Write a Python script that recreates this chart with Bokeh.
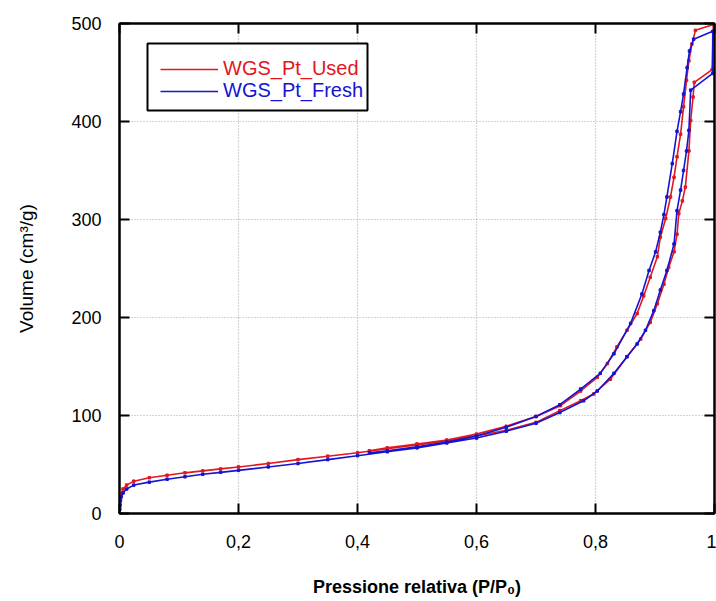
from bokeh.plotting import figure
from bokeh.models import (LinearAxis, Legend, LegendItem, BoxAnnotation, FixedTicker, Range1d)
from bokeh.embed import file_html
from bokeh.resources import INLINE

# ---------------- data ----------------
used_ads_p = [0.0003, 0.0008, 0.0015, 0.003, 0.006, 0.012, 0.024, 0.05, 0.08, 0.11, 0.14, 0.17,
              0.20, 0.25, 0.30, 0.35, 0.40, 0.45, 0.50, 0.55, 0.60, 0.65, 0.70, 0.74, 0.775, 0.797,
              0.825, 0.853, 0.876, 0.892, 0.904, 0.915, 0.923, 0.932, 0.937, 0.940, 0.946, 0.951,
              0.957, 0.960, 0.964, 0.966, 0.996]
used_ads_v = [5, 10, 15, 20, 25, 29, 33, 36.5, 39, 41.5, 43.5, 45.5,
              47.5, 51, 55, 58.5, 62, 66, 70, 74, 79, 85, 93, 105, 115, 122,
              137, 160, 178, 195, 214, 234, 251, 267, 285, 306, 319, 333,
              370, 401, 425, 440, 453]
used_des_p = [0.998, 0.968, 0.962, 0.957, 0.953, 0.948, 0.943, 0.937, 0.932, 0.926, 0.918, 0.909,
              0.904, 0.892, 0.881, 0.870, 0.853, 0.836, 0.820, 0.803, 0.775, 0.741, 0.70, 0.65,
              0.60, 0.55, 0.50, 0.45, 0.42]
used_des_v = [499, 493, 479, 462, 442, 415, 387, 364, 343, 323, 301, 282,
              262, 241, 222, 204, 187, 170, 153, 139, 125, 110, 99, 89,
              81, 75, 71, 67, 64]

fresh_ads_p = [0.0003, 0.0008, 0.0015, 0.003, 0.006, 0.012, 0.024, 0.05, 0.08, 0.11, 0.14, 0.17,
               0.20, 0.25, 0.30, 0.35, 0.40, 0.45, 0.50, 0.55, 0.60, 0.65, 0.70, 0.74, 0.78, 0.803,
               0.831, 0.853, 0.870, 0.884, 0.898, 0.909, 0.920, 0.932, 0.937, 0.943, 0.948, 0.953,
               0.957, 0.960, 0.997]
fresh_ads_v = [4, 8, 13, 17, 21, 25, 29, 32, 35, 37.5, 40, 42,
               44, 47.5, 51, 55, 59, 63, 67, 72, 77, 84, 92, 103, 115, 125,
               143, 160, 173, 187, 207, 228, 248, 275, 309, 330, 350, 370,
               391, 432, 449]
fresh_des_p = [0.997, 0.965, 0.958, 0.954, 0.948, 0.943, 0.937, 0.929, 0.920, 0.915, 0.909, 0.901,
               0.890, 0.878, 0.859, 0.831, 0.808, 0.775, 0.740, 0.70, 0.65, 0.60, 0.55, 0.50,
               0.45, 0.42]
fresh_des_v = [492, 484, 472, 455, 428, 410, 390, 357, 323, 305, 287, 267,
               248, 224, 194, 163, 143, 127, 111, 99, 88, 79, 73, 68,
               64, 62]

series_names = ["WGS_Pt_Used", "WGS_Pt_Fresh"]
x_ticks = [0, 0.2, 0.4, 0.6, 0.8, 1]
x_tick_labels = ["0", "0,2", "0,4", "0,6", "0,8", "1"]
y_ticks = [0, 100, 200, 300, 400, 500]

RED = "#e3161e"
BLUE = "#1414d2"
FONT = "Liberation Sans"

p = figure(width=716, height=600, output_backend="svg", toolbar_location=None,
           x_range=Range1d(0, 1), y_range=Range1d(0, 500),
           min_border_left=119, min_border_right=2, min_border_top=23, min_border_bottom=87)
p.background_fill_color = "white"
p.border_fill_color = "white"
p.outline_line_color = "black"
p.outline_line_width = 2

# curves
up = used_ads_p + used_des_p
uv = used_ads_v + used_des_v
fp = fresh_ads_p + fresh_des_p
fv = fresh_ads_v + fresh_des_v
r_used = p.line(up, uv, line_color=RED, line_width=1.6)
p.scatter(up, uv, marker="square", size=2.5, color=RED)
r_fresh = p.line(fp, fv, line_color=BLUE, line_width=1.6)
p.scatter(fp, fv, marker="square", size=2.5, color=BLUE)

# axes
xt = FixedTicker(ticks=x_ticks)
yt = FixedTicker(ticks=y_ticks)
p.xaxis.ticker = xt
p.yaxis.ticker = yt
p.xaxis.major_label_overrides = {t: l for t, l in zip(x_ticks, x_tick_labels)}
for ax in (p.xaxis[0], p.yaxis[0]):
    ax.major_tick_in = 10
    ax.major_tick_out = 0
    ax.minor_tick_line_color = None
    ax.axis_line_width = 2
    ax.major_tick_line_width = 2
    ax.major_label_text_font = FONT
    ax.major_label_text_font_size = "18px"
    ax.major_label_text_color = "black"
    ax.axis_label_text_color = "black"
    ax.axis_label_text_font = FONT
p.xaxis.major_label_standoff = 21
p.yaxis.major_label_standoff = 18
p.xaxis.axis_label = "Pressione relativa (P/P\u2080)"
p.xaxis.axis_label_text_font_style = "bold"
p.xaxis.axis_label_text_font_size = "18px"
p.xaxis.axis_label_standoff = 26
p.yaxis.axis_label = "Volume (cm\u00b3/g)"
p.yaxis.axis_label_text_font_style = "normal"
p.yaxis.axis_label_text_font_size = "19px"
p.yaxis.axis_label_standoff = 31

top_ax = LinearAxis(ticker=FixedTicker(ticks=x_ticks), major_label_text_font_size="1px",
                    major_label_text_color=None,
                    major_tick_in=10, major_tick_out=0, minor_tick_line_color=None,
                    axis_line_width=2, major_tick_line_width=2, major_label_standoff=0)
right_ax = LinearAxis(ticker=FixedTicker(ticks=y_ticks), major_label_text_font_size="1px",
                      major_label_text_color=None,
                      major_tick_in=10, major_tick_out=0, minor_tick_line_color=None,
                      axis_line_width=2, major_tick_line_width=2, major_label_standoff=0)
p.add_layout(top_ax, "above")
p.add_layout(right_ax, "right")

# grid
for g in (p.xgrid[0], p.ygrid[0]):
    g.grid_line_color = "#a8a8a8"
    g.grid_line_dash = "1 2"
    g.grid_line_width = 1.2
p.xgrid.ticker = xt
p.ygrid.ticker = yt

# legend
box = BoxAnnotation(left=28, right=248, top=470, bottom=403,
                    left_units="screen", right_units="screen", top_units="screen", bottom_units="screen",
                    fill_color="white", fill_alpha=1, line_color="black", line_width=2, line_alpha=1)
p.add_layout(box)
for name, rend, col, yloc in ((series_names[0], r_used, RED, 433), (series_names[1], r_fresh, BLUE, 411)):
    lg = Legend(items=[LegendItem(label=name, renderers=[rend])], location=(41, yloc),
                border_line_alpha=0, background_fill_alpha=0, padding=0, margin=0, spacing=0,
                glyph_width=58, glyph_height=20, label_height=20, label_standoff=5,
                label_text_font=FONT, label_text_font_size="20px", label_text_color=col)
    p.add_layout(lg, "center")

open("out.html", "w").write(file_html(p, INLINE))
